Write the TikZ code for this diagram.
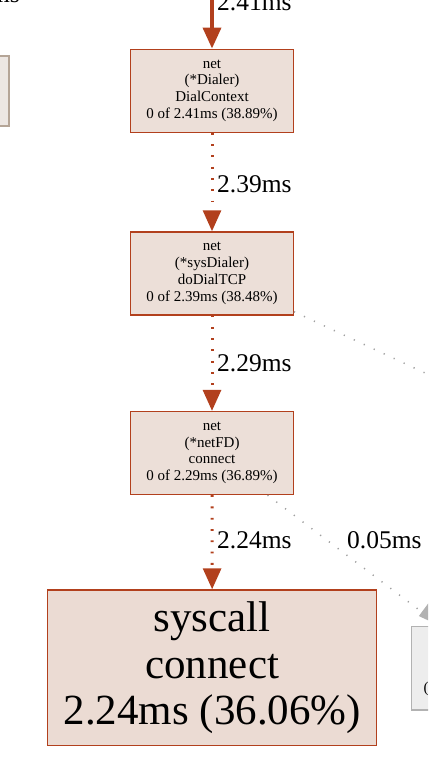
\documentclass[tikz,border=0pt]{standalone}
\usepackage{fontspec}
\setmainfont{Liberation Serif}
\usetikzlibrary{arrows.meta}
\definecolor{hot}{HTML}{B2401D}
\definecolor{hotfill}{HTML}{ECDFD8}
\definecolor{bigfill}{HTML}{EBDBD3}
\definecolor{coldline}{HTML}{B2B2B2}
\definecolor{coldfill}{HTML}{EDEDED}
\definecolor{warmline}{HTML}{B5A597}
\definecolor{warmfill}{HTML}{EDE7E3}
\definecolor{dotgray}{HTML}{A0A0A0}
\begin{document}
\begin{tikzpicture}[x=1pt,y=-1pt,
  fnbox/.style={draw=hot, fill=hotfill, line width=1.3pt, rectangle,
    minimum width=162.6pt, minimum height=83pt, inner sep=0pt, align=center,
    font=\fontsize{15}{16.7}\selectfont},
  bigbox/.style={draw=hot, fill=bigfill, line width=1.3pt, rectangle,
    minimum width=329pt, minimum height=155.7pt, inner sep=0pt, align=center,
    font=\fontsize{43}{46.5}\selectfont},
  elabel/.style={anchor=base west, inner sep=0pt, font=\fontsize{25.5}{28}\selectfont},
  hottip/.style={-{Triangle[length=21pt,width=18pt]}},
  hotsolid/.style={draw=hot, line width=3.7pt, hottip},
  hotdot/.style={draw=hot, line width=3pt, dash pattern=on 1.8pt off 9.5pt, hottip},
  colddot/.style={draw=dotgray, line width=1.5pt, dash pattern=on 1.2pt off 9.8pt},
  coldtip/.style={-{Triangle[length=20pt,width=16pt]}}
]
\useasboundingbox (0,0) rectangle (428,770);
\clip (0,0) rectangle (428,770);

% partially visible neighbours
\node[draw=warmline, fill=warmfill, line width=1.3pt, rectangle,
      minimum width=159pt, minimum height=70pt, inner sep=0pt] (L) at (-70.5,91) {};
\node[draw=coldline, fill=coldfill, line width=1.3pt, rectangle,
      minimum width=148.5pt, minimum height=83.3pt, inner sep=0pt] (R) at (485.75,668.35) {};
\node[anchor=base west, inner sep=0pt, font=\fontsize{15}{16.7}\selectfont] (Rtxt) at (423.5,692) {(};

% main chain
\node[fnbox] (d1) at (212,90.7) {net\\(*Dialer)\\DialContext\\0 of 2.41ms (38.89\%)};
\node[fnbox] (d2) at (212,273.4) {net\\(*sysDialer)\\doDialTCP\\0 of 2.39ms (38.48\%)};
\node[fnbox] (d3) at (212,453) {net\\(*netFD)\\connect\\0 of 2.29ms (36.89\%)};
\node[bigbox] (d4) at (212.2,667.8) {syscall\\connect\\2.24ms (36.06\%)};

\coordinate (top) at (212,-12);
\coordinate (g1) at (470,394);

% edges
\draw[hotsolid] (top) -- (d1);
\draw[hotdot] (d1) -- (d2);
\draw[hotdot] (d2) -- (d3);
\draw[hotdot] (d3) -- (d4);
\draw[colddot] (d2) -- (g1);
\draw[colddot] (d3) -- ([xshift=29.5pt]R.north west);
\draw[draw=none, fill=coldline] ([xshift=29.5pt]R.north west) -- ++(-21.5,-10) -- ++(9.5,-12.8) -- cycle;

% labels
\node[elabel, anchor=base east] (lm) at (20,3) {ms};
\node[elabel] (l0) at (217,11) {2.41ms};
\node[elabel] (l1) at (217,192) {2.39ms};
\node[elabel] (l2) at (217,371) {2.29ms};
\node[elabel] (l3) at (217,548) {2.24ms};
\node[elabel] (l4) at (347,548) {0.05ms};
\end{tikzpicture}
\end{document}
